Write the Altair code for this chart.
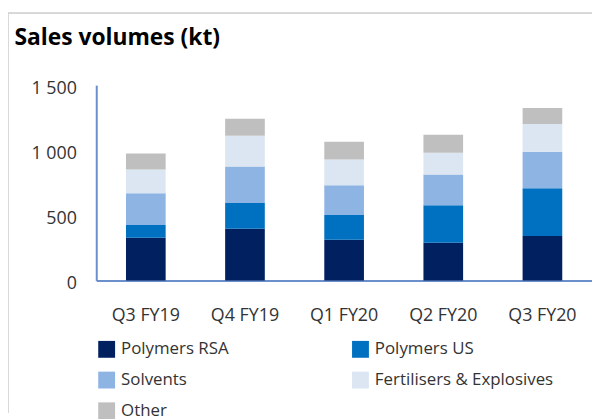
import altair as alt
import pandas as pd

quarters = ["Q3 FY19", "Q4 FY19", "Q1 FY20", "Q2 FY20", "Q3 FY20"]
segments = ["Polymers RSA", "Polymers US", "Solvents", "Fertilisers & Explosives", "Other"]
colors = ["#002060", "#0070C0", "#8EB4E3", "#DCE6F2", "#BFBFBF"]

polymers_rsa = [327, 396, 312, 289, 342]
polymers_us = [99, 198, 190, 289, 366]
solvents = [244, 281, 228, 236, 281]
fert_expl = [182, 236, 198, 167, 213]
other = [122, 130, 137, 137, 122]

series = [polymers_rsa, polymers_us, solvents, fert_expl, other]
rows = []
for si, (seg, vals) in enumerate(zip(segments, series)):
    for q, v in zip(quarters, vals):
        rows.append({"quarter": q, "segment": seg, "value": v, "order": si})
df = pd.DataFrame(rows)

# legend fills column by column (3 rows), so reorder for a row-wise reading
legend_idx = [0, 2, 4, 1, 3]
legend_domain = [segments[i] for i in legend_idx]
legend_range = [colors[i] for i in legend_idx]

FONT = "Open Sans"
AXIS_BLUE = "#6A8FCB"

bars = alt.Chart(df).mark_bar().encode(
    x=alt.X("quarter:N", sort=quarters, title=None,
            scale=alt.Scale(paddingInner=0.6, paddingOuter=0.3),
            axis=alt.Axis(labelAngle=0, ticks=False, domainColor=AXIS_BLUE,
                          domainWidth=2, labelPadding=26, labelFontSize=18,
                          labelFont=FONT, labelColor="#333333")),
    y=alt.Y("value:Q", stack="zero", title=None,
            scale=alt.Scale(domain=[0, 1500], nice=False),
            axis=alt.Axis(values=[0, 500, 1000, 1500], grid=False, ticks=False,
                          domainColor=AXIS_BLUE, domainWidth=2, labelPadding=20,
                          labelOffset=3,
                          labelFontSize=18, labelFont=FONT, labelColor="#333333",
                          labelExpr="replace(format(datum.value, ','), ',', ' ')")),
    color=alt.Color("segment:N", title=None,
                    scale=alt.Scale(domain=legend_domain, range=legend_range),
                    legend=alt.Legend(orient="none", legendX=2, legendY=258,
                                      columns=2, columnPadding=124, rowPadding=13,
                                      symbolType="square", symbolSize=289,
                                      symbolStrokeWidth=0, labelFontSize=17,
                                      labelFont=FONT, labelColor="#333333",
                                      labelOffset=6, labelLimit=300)),
    order=alt.Order("order:Q", sort="ascending"),
)

frame_top = alt.Chart(df).mark_rule(color="#D9D9D9", strokeWidth=1).encode(
    x=alt.value(-89), x2=alt.value(505), y=alt.value(-73))
frame_left = alt.Chart(df).mark_rule(color="#D9D9D9", strokeWidth=1).encode(
    x=alt.value(-89), y=alt.value(-73), y2=alt.value(330))

chart = alt.layer(frame_top, frame_left, bars).properties(
    width=500, height=197,
    title=alt.TitleParams("Sales volumes (kt)", anchor="start", dx=7, dy=42,
                          fontSize=23, fontWeight="bold", font=FONT, color="#000000"),
    autosize=alt.AutoSizeParams(type="none"),
    padding={"left": 89, "top": 76, "right": 0, "bottom": 138},
).configure_view(stroke=None)

chart.save("out.html", embed_options={"renderer": "svg", "actions": False})
